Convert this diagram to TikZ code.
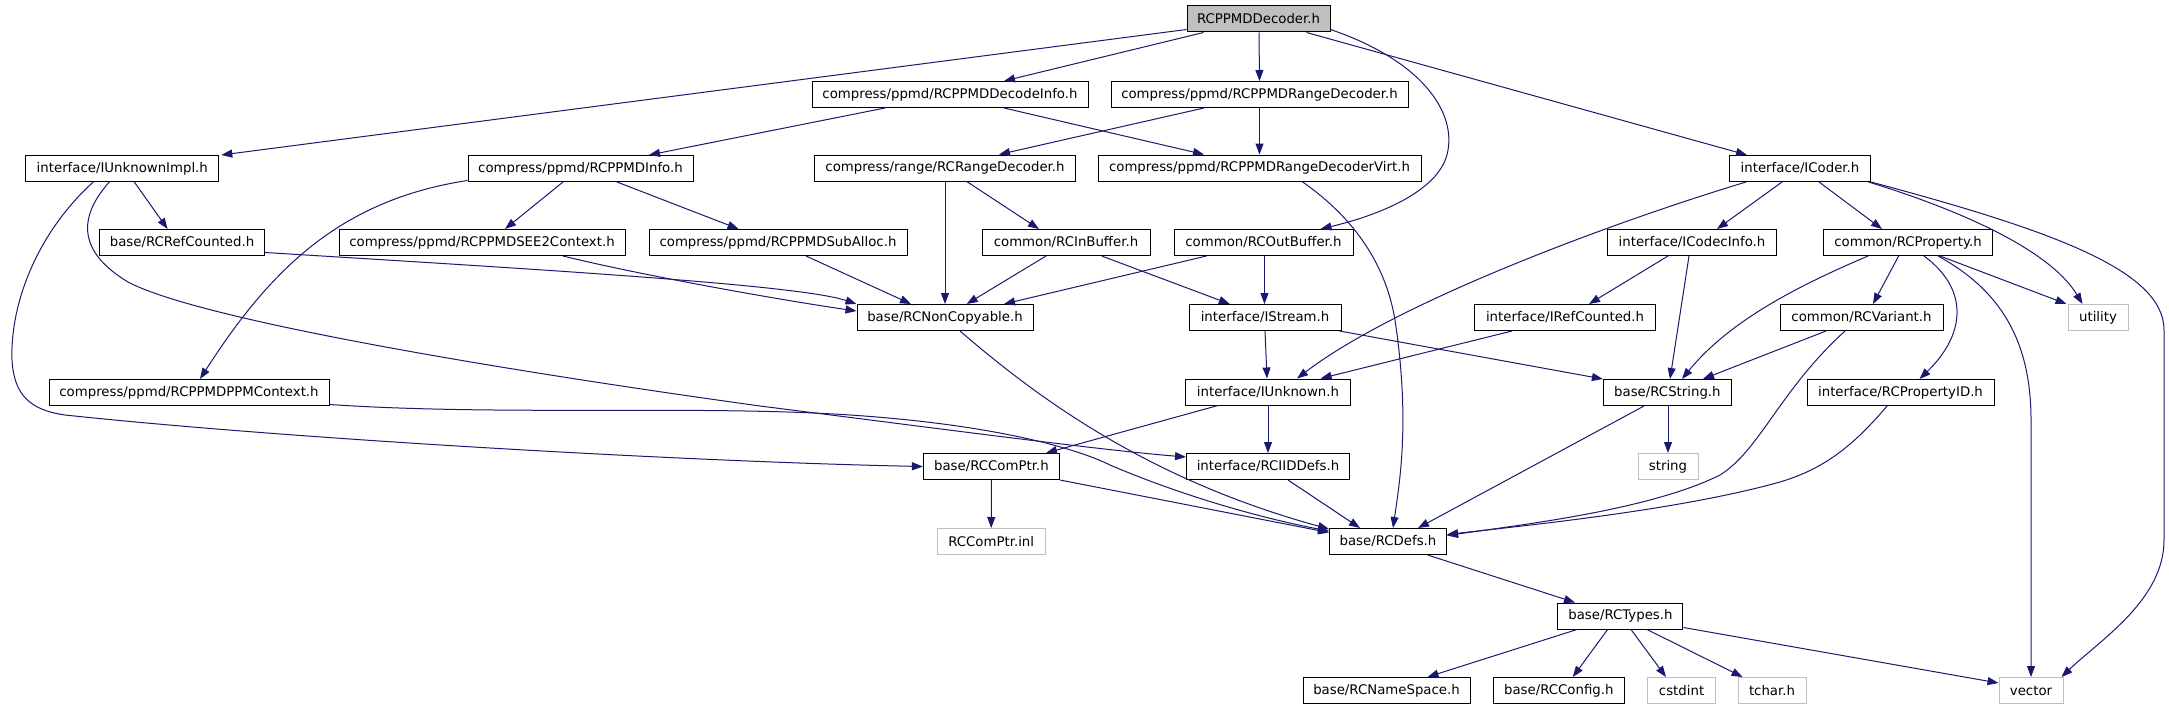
\documentclass[tikz,border=0pt]{standalone}
\usepackage{fontspec}
\setmainfont{DejaVu Sans}
\usetikzlibrary{arrows.meta,calc}
\definecolor{edgeblue}{RGB}{25,25,112}
\definecolor{extgray}{RGB}{191,191,191}
\newcommand\nodefs{\fontsize{13.3pt}{16pt}\selectfont}
\tikzset{
  nbox/.style={draw=black, line width=1pt, minimum height=26pt, inner sep=0pt, font=\nodefs, text=black, fill=white},
  topbox/.style={nbox, fill=extgray},
  ext/.style={nbox, draw=extgray},
  dep/.style={draw=edgeblue, line width=1pt, -{Triangle[length=11pt,width=8pt]}},
}
\begin{document}
\begin{tikzpicture}[x=1pt,y=-1pt]
\useasboundingbox (0,0) rectangle (2169,709);
\fill[white] (0,0) rectangle (2169,709);
% nodes
\node[topbox, minimum width=143] (D) at (1258.5,19) {RCPPMDDecoder.h};
\node[nbox, minimum width=276] (DI) at (950,94.5) {compress/ppmd/RCPPMDDecodeInfo.h};
\node[nbox, minimum width=297] (RD) at (1259.5,94.5) {compress/ppmd/RCPPMDRangeDecoder.h};
\node[nbox, minimum width=193] (UI) at (122.3,168.5) {interface/IUnknownImpl.h};
\node[nbox, minimum width=225] (PI) at (580.5,168.5) {compress/ppmd/RCPPMDInfo.h};
\node[nbox, minimum width=261] (RRD) at (945,168) {compress/range/RCRangeDecoder.h};
\node[nbox, minimum width=323] (RDV) at (1259.5,168) {compress/ppmd/RCPPMDRangeDecoderVirt.h};
\node[nbox, minimum width=141] (IC) at (1800,168.5) {interface/ICoder.h};
\node[nbox, minimum width=165] (RC) at (182,242.5) {base/RCRefCounted.h};
\node[nbox, minimum width=286] (SEE) at (482,242.5) {compress/ppmd/RCPPMDSEE2Context.h};
\node[nbox, minimum width=258] (SA) at (778,242.5) {compress/ppmd/RCPPMDSubAlloc.h};
\node[nbox, minimum width=168] (IB) at (1066,242.5) {common/RCInBuffer.h};
\node[nbox, minimum width=179] (OB) at (1263.5,242.5) {common/RCOutBuffer.h};
\node[nbox, minimum width=169] (CI) at (1692,242.5) {interface/ICodecInfo.h};
\node[nbox, minimum width=169] (PR) at (1908,242.5) {common/RCProperty.h};
\node[nbox, minimum width=176] (NC) at (945,317.5) {base/RCNonCopyable.h};
\node[nbox, minimum width=152] (IS) at (1265,317.5) {interface/IStream.h};
\node[nbox, minimum width=181] (IRC) at (1565,317.5) {interface/IRefCounted.h};
\node[nbox, minimum width=163] (VA) at (1861.5,317.5) {common/RCVariant.h};
\node[ext, minimum width=60] (UT) at (2098,317.5) {utility};
\node[nbox, minimum width=280] (PPM) at (189,392.5) {compress/ppmd/RCPPMDPPMContext.h};
\node[nbox, minimum width=165] (IU) at (1268,392) {interface/IUnknown.h};
\node[nbox, minimum width=128] (ST) at (1667.4,392.5) {base/RCString.h};
\node[nbox, minimum width=187] (PID) at (1900.5,392.5) {interface/RCPropertyID.h};
\node[nbox, minimum width=136] (CP) at (991.4,466.5) {base/RCComPtr.h};
\node[nbox, minimum width=163] (IID) at (1268,466.5) {interface/RCIIDDefs.h};
\node[ext, minimum width=60] (STR) at (1668,466.5) {string};
\node[ext, minimum width=108] (INL) at (991.2,541.5) {RCComPtr.inl};
\node[nbox, minimum width=117] (DEF) at (1388,541.5) {base/RCDefs.h};
\node[nbox, minimum width=125] (TY) at (1620.4,616) {base/RCTypes.h};
\node[nbox, minimum width=167] (NS) at (1386.5,690.5) {base/RCNameSpace.h};
\node[nbox, minimum width=131] (CF) at (1558.8,690.5) {base/RCConfig.h};
\node[ext, minimum width=68] (CS) at (1681.6,690.5) {cstdint};
\node[ext, minimum width=68] (TC) at (1772,690.5) {tchar.h};
\node[ext, minimum width=64] (VE) at (2031,690.5) {vector};
% edges
\draw[dep] ($(D.south west)+(0,-3)$) -- ($(UI.north east)+(2,0)$);
\draw[dep] ($(D.south west)+(17,0)$) -- ($(DI.north)+(54,0)$);
\draw[dep] ($(D.south)+(0.5,0)$) -- (RD.north);
\draw[dep] ($(D.south east)+(0,-3)$) .. controls (1420,60) and (1455,110) .. (1448,150) .. controls (1442,190) and (1380,215) .. ($(OB.north)+(57,0)$);
\draw[dep] ($(D.south)+(48,0)$) -- ($(IC.north)+(-53,0)$);
\draw[dep] ($(DI.south)+(-65,0)$) -- ($(PI.north)+(68.5,0)$);
\draw[dep] ($(DI.south)+(54,0)$) -- ($(RDV.north)+(-55.5,0)$);
\draw[dep] ($(RD.south)+(-55.5,0)$) -- ($(RRD.north)+(54,0)$);
\draw[dep] (RD.south) -- (RDV.north);
\draw[dep] ($(RDV.south)+(42.5,0)$) .. controls (1350,215) and (1385,260) .. (1395,320) .. controls (1410,420) and (1400,480) .. ($(DEF.north)+(5,0)$);
\draw[dep] ($(UI.south)+(12,0)$) -- ($(RC.north)+(-14.4,0)$);
\draw[dep] ($(UI.south)+(-29,0)$) .. controls (40,230) and (10,300) .. (12,360) .. controls (14,395) and (30,410) .. (65,415) .. controls (300,440) and (700,462) .. (CP.west);
\draw[dep] ($(UI.south)+(-13,0)$) .. controls (80,215) and (75,250) .. (128,282) .. controls (200,320) and (500,370) .. (760,406) .. controls (950,430) and (1100,450) .. ($(IID.north west)+(0,4)$);
\draw[dep] ($(PI.south)+(-17.5,0)$) -- ($(SEE.north)+(23,0)$);
\draw[dep] ($(PI.south)+(36.5,0)$) -- ($(SA.north)+(-39.4,0)$);
\draw[dep] ($(PI.south west)+(0,-1.5)$) .. controls (340,200) and (270,270) .. ($(PPM.north)+(11,0)$);
\draw[dep] (RRD.south) -- (NC.north);
\draw[dep] ($(RRD.south)+(21.7,0)$) -- ($(IB.north)+(-27,0)$);
\draw[dep] ($(RC.south east)+(0,-3.5)$) .. controls (550,270) and (800,285) .. (NC.north west);
\draw[dep] ($(SEE.south)+(81,0)$) .. controls (640,275) and (780,300) .. ($(NC.west)+(0,-6.5)$);
\draw[dep] ($(SA.south)+(28,0)$) -- ($(NC.north)+(-34,0)$);
\draw[dep] ($(IB.south)+(-20,0)$) -- ($(NC.north)+(21.7,0)$);
\draw[dep] ($(IB.south)+(35.7,0)$) -- ($(IS.north)+(-35.2,0)$);
\draw[dep] ($(OB.south)+(-57,0)$) -- ($(NC.north)+(59,0)$);
\draw[dep] ($(OB.south)+(1,0)$) -- ($(IS.north)+(-0.5,0)$);
\draw[dep] ($(IC.south)+(-18,0)$) -- ($(CI.north)+(25,0)$);
\draw[dep] ($(IC.south)+(19,0)$) -- ($(PR.north)+(-26,0)$);
\draw[dep] ($(IC.south west)+(17,0)$) .. controls (1620,220) and (1400,300) .. ($(IU.north)+(29,0)$);
\draw[dep] ($(IC.south east)+(-2.5,0)$) .. controls (1960,210) and (2050,250) .. ($(UT.north)+(-15.5,0)$);
\draw[dep] (IC.south east) .. controls (2050,230) and (2164,270) .. (2164,330) -- (2164,540) .. controls (2164,600) and (2100,640) .. ($(VE.north)+(30.5,0)$);
\draw[dep] ($(PR.south)+(32,0)$) -- ($(UT.north west)+(-1,0)$);
\draw[dep] ($(PR.south)+(30,0)$) .. controls (2000,290) and (2031,340) .. (2031,420) -- (VE.north);
\draw[dep] ($(PR.south)+(16,0)$) .. controls (1970,290) and (1965,335) .. ($(PID.north)+(19,0)$);
\draw[dep] ($(PR.south)+(-40,0)$) .. controls (1800,285) and (1730,320) .. ($(ST.north)+(14.6,0)$);
\draw[dep] ($(PR.south)+(-9.4,0)$) -- ($(VA.north)+(11.5,0)$);
\draw[dep] ($(CI.south)+(-24,0)$) -- ($(IRC.north)+(24,0)$);
\draw[dep] ($(CI.south)+(-3,0)$) -- ($(ST.north)+(2.6,0)$);
\draw[dep] ($(VA.south)+(-35.5,0)$) -- ($(ST.north)+(35.6,0)$);
\draw[dep] ($(VA.south)+(-16.5,0)$) .. controls (1780,390) and (1760,450) .. (1720,475) .. controls (1650,510) and (1520,525) .. ($(DEF.east)+(0,-6)$);
\draw[dep] ($(PID.south)+(-13.5,0)$) .. controls (1850,450) and (1820,470) .. (1780,482) .. controls (1680,510) and (1530,525) .. ($(DEF.east)+(0,-7)$);
\draw[dep] ($(ST.south)+(-23.4,0)$) -- ($(DEF.north)+(30,0)$);
\draw[dep] ($(ST.south)+(0.6,0)$) -- (STR.north);
\draw[dep] ($(IRC.south)+(-53,0)$) -- ($(IU.north)+(52.6,0)$);
\draw[dep] (IS.south) -- ($(IU.north)+(-1,0)$);
\draw[dep] ($(IS.south east)+(-2,0)$) -- (ST.north west);
\draw[dep] (IU.south) -- (IID.north);
\draw[dep] ($(IU.south)+(-50,0)$) -- ($(CP.north)+(54.6,0)$);
\draw[dep] (CP.south) -- (INL.north);
\draw[dep] (CP.south east) -- ($(DEF.north west)+(0,4.5)$);
\draw[dep] ($(NC.south)+(15,0)$) .. controls (1040,400) and (1150,480) .. ($(DEF.north west)+(0,1)$);
\draw[dep] ($(IID.south)+(20,0)$) -- ($(DEF.north)+(-28,0)$);
\draw[dep] ($(PPM.south east)+(0,-1.5)$) .. controls (500,416) and (700,405) .. (850,415) .. controls (1000,425) and (1080,450) .. (1110,465) .. controls (1180,495) and (1260,518) .. ($(DEF.north west)+(0,3)$);
\draw[dep] ($(DEF.south)+(39.6,0)$) -- ($(TY.north)+(-45.4,0)$);
\draw[dep] ($(TY.south)+(-43.4,0)$) -- ($(NS.north)+(41,0)$);
\draw[dep] ($(TY.south)+(-12.8,0)$) -- ($(CF.north)+(14,0)$);
\draw[dep] ($(TY.south)+(10.6,0)$) -- ($(CS.north)+(-15.6,0)$);
\draw[dep] ($(TY.south)+(26.6,0)$) -- ($(TC.north)+(-29.4,0)$);
\draw[dep] ($(TY.south east)+(0,-2)$) -- ($(VE.west)+(0,-7.5)$);
\end{tikzpicture}
\end{document}
